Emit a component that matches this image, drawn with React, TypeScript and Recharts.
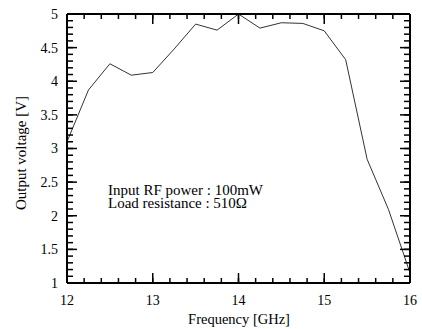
import * as React from 'react';
import { LineChart, Line, XAxis, YAxis } from 'recharts';

// Output voltage vs. frequency
const frequency = [12, 12.25, 12.5, 12.75, 13, 13.25, 13.5, 13.75, 14, 14.25, 14.5, 14.75, 15, 15.25, 15.5, 15.75, 16];
const voltage = [3.1, 3.87, 4.26, 4.09, 4.13, 4.48, 4.85, 4.76, 5.0, 4.79, 4.87, 4.86, 4.75, 4.32, 2.84, 2.09, 1.15];

const xMajor = [12, 13, 14, 15, 16];
const yMajor = [1, 1.5, 2, 2.5, 3, 3.5, 4, 4.5, 5];

const annotation = ['Input RF power : 100mW', 'Load resistance : 510\u03A9'];

const data = frequency.map((f, i) => ({ f, v: voltage[i] }));

// minor ticks: 5 per GHz on x, 5 per 0.5 V on y
const xTicks: number[] = [];
for (let i = 0; i <= 20; i++) xTicks.push(Math.round((12 + i * 0.2) * 10) / 10);
const yTicks: number[] = [];
for (let i = 0; i <= 40; i++) yTicks.push(Math.round((1 + i * 0.1) * 10) / 10);

const isMajor = (list: number[], v: number) => list.some((m) => Math.abs(m - v) < 1e-6);

const FONT = '"Liberation Serif", "Times New Roman", serif';
const MAJOR = 10;
const XMIN = 5; // minor tick length on x axes
const YMIN = 6; // minor tick length on y axes
const tickStroke = { stroke: '#000', strokeWidth: 1.5 };
const frame = { stroke: '#000', strokeWidth: 2 };

// tick coords arrive at the inner end of the (inward) minor tick line
const bottomTick = (p: any) => {
  if (!isMajor(xMajor, p.payload.value)) return <g />;
  const base = p.y + XMIN;
  return (
    <g>
      <path d={`M${p.x},${base}V${base - MAJOR}`} stroke="#000" strokeWidth={1.5} fill="none" />
      <text x={p.x} y={base + 22} textAnchor="middle" fontSize={14} fontFamily={FONT} fill="#000">
        {p.payload.value}
      </text>
    </g>
  );
};

const topTick = (p: any) => {
  if (!isMajor(xMajor, p.payload.value)) return <g />;
  const base = p.y - XMIN;
  return <path d={`M${p.x},${base}V${base + MAJOR}`} stroke="#000" strokeWidth={1.5} fill="none" />;
};

const leftTick = (p: any) => {
  if (!isMajor(yMajor, p.payload.value)) return <g />;
  const base = p.x - YMIN;
  return (
    <g>
      <path d={`M${base},${p.y}H${base + MAJOR}`} stroke="#000" strokeWidth={1.5} fill="none" />
      <text x={base - 9} y={p.y} dy="0.35em" textAnchor="end" fontSize={14} fontFamily={FONT} fill="#000">
        {p.payload.value}
      </text>
    </g>
  );
};

const rightTick = (p: any) => {
  if (!isMajor(yMajor, p.payload.value)) return <g />;
  const base = p.x + YMIN;
  return <path d={`M${base},${p.y}H${base - MAJOR}`} stroke="#000" strokeWidth={1.5} fill="none" />;
};

export default function App(): React.JSX.Element {
  return (
    <div style={{ position: 'absolute', left: 0, top: 0, width: 422, height: 329, background: '#fff' }}>
      <LineChart width={422} height={329} data={data} margin={{ top: 13, right: 11, bottom: 0, left: 0 }}>
        <XAxis
          xAxisId="b"
          dataKey="f"
          type="number"
          domain={[12, 16]}
          allowDataOverflow
          ticks={xTicks}
          interval={0}
          tick={bottomTick}
          tickLine={tickStroke}
          tickSize={-XMIN}
          tickMargin={0}
          height={46}
          axisLine={frame}
          label={{
            content: () => (
              <text x={239} y={324} textAnchor="middle" fontSize={14.5} fontFamily={FONT} fill="#000">
                Frequency [GHz]
              </text>
            ),
          }}
        />
        <XAxis
          xAxisId="t"
          orientation="top"
          dataKey="f"
          type="number"
          domain={[12, 16]}
          allowDataOverflow
          ticks={xTicks}
          interval={0}
          tick={topTick}
          tickLine={tickStroke}
          tickSize={-XMIN}
          tickMargin={0}
          height={1}
          axisLine={frame}
        />
        <YAxis
          yAxisId="l"
          type="number"
          domain={[1, 5]}
          allowDataOverflow
          ticks={yTicks}
          interval={0}
          tick={leftTick}
          tickLine={tickStroke}
          tickSize={-YMIN}
          tickMargin={0}
          width={67}
          axisLine={frame}
          label={{
            content: () => (
              <text
                x={21}
                y={153}
                transform="rotate(-90 21 153)"
                textAnchor="middle"
                dy="0.35em"
                fontSize={15}
                fontFamily={FONT}
                fill="#000"
              >
                Output voltage [V]
              </text>
            ),
          }}
        />
        <YAxis
          yAxisId="r"
          orientation="right"
          type="number"
          domain={[1, 5]}
          allowDataOverflow
          ticks={yTicks}
          interval={0}
          tick={rightTick}
          tickLine={tickStroke}
          tickSize={-YMIN}
          tickMargin={0}
          width={1}
          axisLine={frame}
        />
        <Line
          xAxisId="b"
          yAxisId="l"
          dataKey="v"
          type="linear"
          stroke="#333"
          strokeWidth={1}
          dot={false}
          isAnimationActive={false}
        />
      </LineChart>
      <div
        style={{
          position: 'absolute',
          left: 108,
          top: 184,
          fontFamily: FONT,
          fontSize: 15,
          lineHeight: '13px',
          color: '#000',
          whiteSpace: 'nowrap',
        }}
      >
        {annotation.map((t) => (
          <div key={t}>{t}</div>
        ))}
      </div>
    </div>
  );
}
